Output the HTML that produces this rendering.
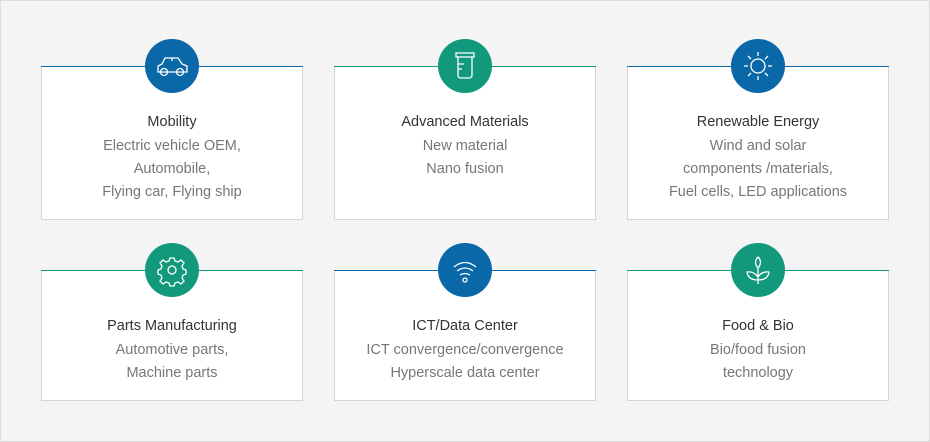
<!DOCTYPE html>
<html><head><style>
body{margin:0;width:930px;height:442px;background:#f4f4f4;font-family:"Liberation Sans",sans-serif;position:relative;overflow:hidden}
.frame{position:absolute;left:0;top:0;width:928px;height:440px;border:1px solid #dcdcdc}
.card{position:absolute;width:262px;background:#fff;border:1px solid #d4d4d4;border-top:none;box-sizing:border-box;text-align:center}
.card:before{content:"";position:absolute;left:-1px;right:-1px;top:0;height:1px;background:var(--c)}
.circ{position:absolute;left:103px;top:-27px;width:54px;height:54px;border-radius:50%;background:var(--c)}
.circ svg{position:absolute;left:0;top:0}
.t{position:absolute;left:0;right:0;top:47px;font-size:14.5px;color:#333;line-height:18px}
.b{position:absolute;left:0;right:0;top:69px;font-size:14.5px;color:#777;line-height:23px}
</style></head><body>
<div class="frame"></div>

<div class="card" style="left:41px;top:66px;height:154px;--c:#0b68a8">
<div class="circ"><svg width="54" height="54" fill="none" stroke="#fff" stroke-width="1.3"><path d="M13 33h2M23 33h8M39 33h3v-6l-5-2-4-6H20l-3 6-4 2v6z"/><circle cx="19" cy="33" r="3.5"/><circle cx="35" cy="33" r="3.5"/><path d="M27 19v3"/></svg></div>
<div class="t">Mobility</div>
<div class="b">Electric vehicle OEM,<br>Automobile,<br>Flying car, Flying ship</div></div>

<div class="card" style="left:334px;top:66px;height:154px;--c:#12987a">
<div class="circ"><svg width="54" height="54" fill="none" stroke="#fff" stroke-width="1.3"><path d="M18 14h18v4H18z M20 18v18q0 3 3 3h8q3 0 3-3V18 M20 25h6M20 30h4"/></svg></div>
<div class="t">Advanced Materials</div>
<div class="b">New material<br>Nano fusion</div></div>

<div class="card" style="left:627px;top:66px;height:154px;--c:#0b68a8">
<div class="circ"><svg width="54" height="54" fill="none" stroke="#fff" stroke-width="1.3"><circle cx="27" cy="27" r="7"/><path d="M27 13v4M27 37v4M13 27h4M37 27h4M17 17l3 3M34 34l3 3M37 17l-3 3M20 34l-3 3"/></svg></div>
<div class="t">Renewable Energy</div>
<div class="b">Wind and solar<br>components /materials,<br>Fuel cells, LED applications</div></div>

<div class="card" style="left:41px;top:270px;height:131px;--c:#12987a">
<div class="circ"><svg width="54" height="54" fill="none" stroke="#fff" stroke-width="1.3"><circle cx="27" cy="27" r="4"/><path d="M25 15h4l1 3 3 1 3-2 3 3-2 3 1 3 3 1v4l-3 1-1 3 2 3-3 3-3-2-3 1-1 3h-4l-1-3-3-1-3 2-3-3 2-3-1-3-3-1v-4l3-1 1-3-2-3 3-3 3 2 3-1z"/></svg></div>
<div class="t">Parts Manufacturing</div>
<div class="b">Automotive parts,<br>Machine parts</div></div>

<div class="card" style="left:334px;top:270px;height:131px;--c:#0b68a8">
<div class="circ"><svg width="54" height="54" fill="none" stroke="#fff" stroke-width="1.3"><path d="M16 24q11-9 22 0M19 28q8-6 16 0M22 32q5-3 10 0"/><circle cx="27" cy="37" r="2"/></svg></div>
<div class="t">ICT/Data Center</div>
<div class="b">ICT convergence/convergence<br>Hyperscale data center</div></div>

<div class="card" style="left:627px;top:270px;height:131px;--c:#12987a">
<div class="circ"><svg width="54" height="54" fill="none" stroke="#fff" stroke-width="1.3"><path d="M27 14q-5 5 0 11q5-6 0-11zM27 25v16M27 37q-10 0-11-8q7-1 11 5M27 37q10 0 11-8q-7-1-11 5"/></svg></div>
<div class="t">Food &amp; Bio</div>
<div class="b">Bio/food fusion<br>technology</div></div>
</body></html>
